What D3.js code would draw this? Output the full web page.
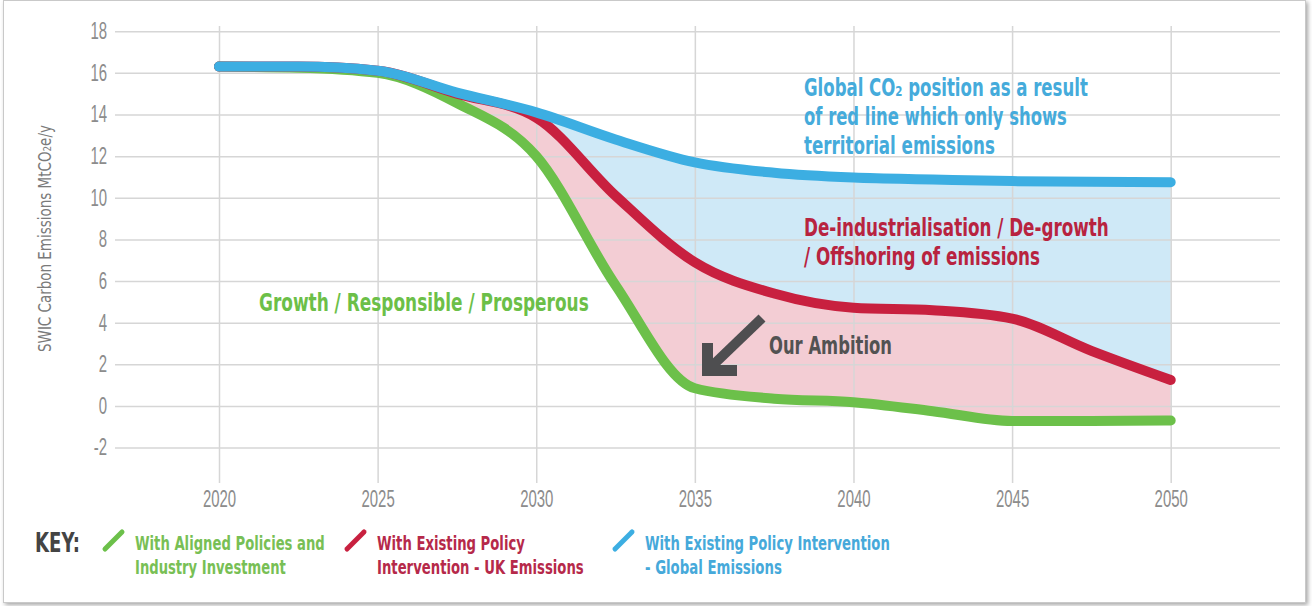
<!DOCTYPE html>
<html>
<head>
<meta charset="utf-8">
<script src="https://cdnjs.cloudflare.com/ajax/libs/d3/7.8.5/d3.min.js"></script>
<style>
    html, body { margin: 0; padding: 0; background: #fff; }
    svg { display: block; font-family: "DejaVu Sans Condensed", "DejaVu Sans", sans-serif; }
    .grid line { stroke: #d6d6d6; stroke-width: 1.5; }
    .grid .domain { display: none; }
    .grid text { fill: #8c8c8c; font-size: 23px; font-weight: 300; }
</style>
</head>
<body>
<div id="chart"></div>
<script>
// data
const years = [2020, 2022.5, 2025, 2027.5, 2030, 2032.5, 2035, 2037.5, 2040, 2042.5, 2045, 2047.5, 2050];
const globalEmissions = [16.3, 16.3, 16.1, 15.05, 14.1, 12.8, 11.7, 11.2, 10.97, 10.88, 10.8, 10.77, 10.75];
const ukEmissions = [16.3, 16.3, 16.1, 15.0, 13.85, 10.1, 6.9, 5.4, 4.72, 4.6, 4.2, 2.65, 1.25];
const alignedEmissions = [16.3, 16.25, 16.0, 14.55, 12.0, 5.8, 0.85, 0.35, 0.18, -0.25, -0.72, -0.72, -0.7];

const yTicks = [-2, 0, 2, 4, 6, 8, 10, 12, 14, 16, 18];
const xTicks = [2020, 2025, 2030, 2035, 2040, 2045, 2050];

const legendItems = [
    {lines: ['With Aligned Policies and', 'Industry Investment'], color: '#6cc04a', text: '#78bf55'},
    {lines: ['With Existing Policy', 'Intervention - UK Emissions'], color: '#c8203f', text: '#b6294a'},
    {lines: ['With Existing Policy Intervention', '- Global Emissions'], color: '#3caee2', text: '#46a9da'}
];

// layout
const width = 1312, height = 606;
const grid = {l: 115, r: 1280, t: 26, b: 483};
const colors = {green: '#6cc04a', red: '#c8203f', blue: '#3caee2', pink: '#f3cdd4', sky: '#cfe9f7'};
const tickSqueeze = 0.65;

const svg = d3.select('#chart').append('svg')
    .attr('width', width)
    .attr('height', height);

// frame with soft shadow
const defs = svg.append('defs');
const shadow = defs.append('filter').attr('id', 'shadow')
    .attr('x', '-2%').attr('y', '-2%').attr('width', '104%').attr('height', '104%');
shadow.append('feDropShadow')
    .attr('dx', 2).attr('dy', 2).attr('stdDeviation', 2)
    .attr('flood-color', '#000').attr('flood-opacity', 0.35);
svg.append('rect')
    .attr('x', 3.5).attr('y', 0.5)
    .attr('width', 1302).attr('height', 602)
    .attr('fill', '#fff')
    .attr('stroke', '#c9c9c9')
    .attr('filter', 'url(#shadow)');

// scales
const x = d3.scaleLinear().domain([2020, 2050]).range([219, 1170.7]);
const y = d3.scaleLinear().domain([-3.7, 18.25]).range([grid.b, grid.t]);

const rows = years.map((yr, i) => ({
    year: yr, global: globalEmissions[i], uk: ukEmissions[i], aligned: alignedEmissions[i]
}));

// fills between the lines
const band = (top, bottom) => d3.area()
    .x(d => x(d.year))
    .y0(d => y(d[bottom]))
    .y1(d => y(d[top]))
    .curve(d3.curveMonotoneX);

svg.append('path').datum(rows)
    .attr('d', band('global', 'uk'))
    .attr('fill', colors.sky);
svg.append('path').datum(rows)
    .attr('d', band('uk', 'aligned'))
    .attr('fill', colors.pink);

// gridlines + tick labels
const axisY = d3.axisLeft(y)
    .tickValues(yTicks)
    .tickSize(-(grid.r - grid.l))
    .tickPadding(8)
    .tickFormat(d => d);
const gY = svg.append('g')
    .attr('class', 'grid')
    .attr('transform', `translate(${grid.l},0)`)
    .call(axisY);
// condense the tick text (narrow face in the original)
gY.selectAll('text')
    .attr('x', null)
    .attr('transform', `translate(-8,0) scale(${tickSqueeze},1)`);

const axisX = d3.axisBottom(x)
    .tickValues(xTicks)
    .tickSize(grid.b - grid.t)
    .tickPadding(8)
    .tickFormat(d => d);
const gX = svg.append('g')
    .attr('class', 'grid')
    .attr('transform', `translate(0,${grid.t})`)
    .call(axisX);
gX.selectAll('text')
    .attr('y', null)
    .attr('transform', `translate(0,${grid.b - grid.t + 8}) scale(${tickSqueeze},1)`);

// lines
const line = key => d3.line()
    .x(d => x(d.year))
    .y(d => y(d[key]))
    .curve(d3.curveMonotoneX);

[['aligned', colors.green], ['uk', colors.red], ['global', colors.blue]].forEach(([key, c]) => {
    svg.append('path').datum(rows)
        .attr('d', line(key))
        .attr('fill', 'none')
        .attr('stroke', c)
        .attr('stroke-width', 10)
        .attr('stroke-linecap', 'round')
        .attr('stroke-linejoin', 'round');
});

// one line of text squeezed to a given width
function textLine(parts, px, py, color, size, fitWidth, weight) {
    const t = svg.append('text')
        .attr('transform', `translate(${px},${py})`)
        .attr('fill', color)
        .style('font-size', size + 'px')
        .style('font-weight', weight || 'bold');
    parts.forEach(part => {
        t.append('tspan')
            .style('font-size', part.sub ? (size * 0.62) + 'px' : null)
            .text(part.t);
    });
    const w = t.node().getComputedTextLength();
    t.attr('transform', `translate(${px},${py}) scale(${fitWidth / w},1)`);
    return t;
}

// y axis title
const yTitle = svg.append('g').attr('transform', 'translate(51,352) rotate(-90)');
{
    const t = yTitle.append('text').attr('fill', '#7a7a7a').style('font-size', '17px');
    t.append('tspan').text('SWIC Carbon Emissions MtCO');
    t.append('tspan').style('font-size', '11px').text('2');
    t.append('tspan').text('e/y');
    const w = t.node().getComputedTextLength();
    t.attr('transform', `scale(${227 / w},1)`);
}

// annotations
textLine([{t: 'Global CO'}, {t: '2', sub: true}, {t: ' position as a result'}], 804, 96, '#45abdb', 24, 284);
textLine([{t: 'of red line which only shows'}], 804, 125, '#45abdb', 24, 263);
textLine([{t: 'territorial emissions'}], 804, 154, '#45abdb', 24, 191);

textLine([{t: 'De-industrialisation / De-growth'}], 804, 236, '#b8233f', 24, 305);
textLine([{t: '/ Offshoring of emissions'}], 804, 265, '#b8233f', 24, 236);

textLine([{t: 'Growth / Responsible / Prosperous'}], 259, 311, '#6cbf48', 24, 330);

textLine([{t: 'Our Ambition'}], 769, 354, '#525252', 25, 123);

// arrow pointing at the green line
svg.append('line')
    .attr('x1', 762).attr('y1', 318)
    .attr('x2', 710).attr('y2', 368)
    .attr('stroke', '#4e4e50')
    .attr('stroke-width', 10);
svg.append('path')
    .attr('d', 'M702,376 L702,343 L713,343 L713,365 L737,365 L737,376 Z')
    .attr('fill', '#4e4e50');

// legend
textLine([{t: 'KEY:'}], 35, 552, '#444', 26, 45);

const legendX = [103, 345, 613];
const legendWidths = [[190, 151], [148, 207], [245, 137]];
legendItems.forEach((item, i) => {
    const lx = legendX[i];
    svg.append('line')
        .attr('x1', lx + 2).attr('y1', 549)
        .attr('x2', lx + 19).attr('y2', 532)
        .attr('stroke', item.color)
        .attr('stroke-width', 5)
        .attr('stroke-linecap', 'round');
    item.lines.forEach((ln, j) => {
        textLine([{t: ln}], lx + 32, 550 + j * 24, item.text, 20, legendWidths[i][j]);
    });
});
</script>
</body>
</html>
